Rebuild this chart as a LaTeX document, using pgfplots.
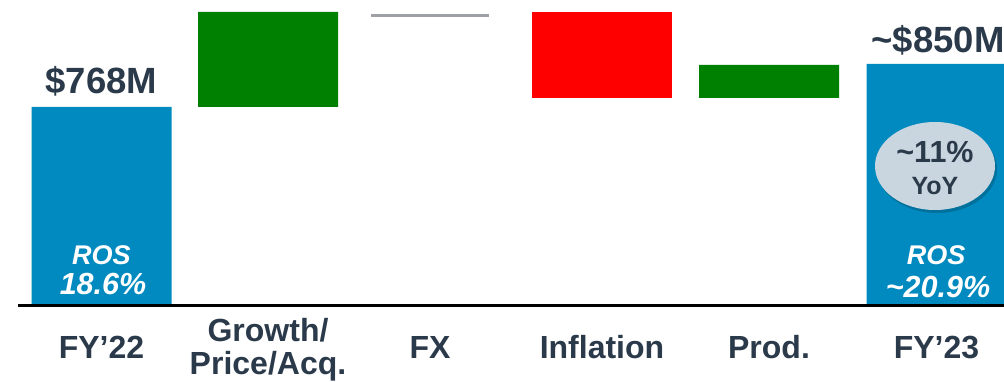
\documentclass[border=0pt]{standalone}
\usepackage{pgfplots}
\pgfplotsset{compat=1.18}
\usepackage{fontspec}
\setmainfont{Liberation Sans}
\definecolor{txtdark}{HTML}{2B3A4A}
\definecolor{barblue}{HTML}{008ABF}
\definecolor{bargreen}{HTML}{008000}
\definecolor{barred}{HTML}{FF0000}
\definecolor{fxgray}{HTML}{9DA1A6}
\definecolor{ellfill}{HTML}{C9D6DF}
\definecolor{baseline}{HTML}{2E3D4D}
\pgfplotsset{frame/.style={
  scale only axis,
  width=1004pt, height=381pt,
  xmin=0, xmax=1004, ymin=-77, ymax=304,
  clip=false}}
\begin{document}
\begin{tikzpicture}
\begin{axis}[
  frame,
  axis line style={draw=none},
  ytick=\empty,
  xtick={101.5,268,430,602,769,936.5},
  xticklabels={FY’22,{\raisebox{-16.5pt}{\begin{tabular}[b]{@{}c@{}}Growth/\\[-0.5pt]Price/Acq.\end{tabular}}},FX,Inflation,Prod.,FY’23},
  tick style={draw=none},
  xticklabel style={anchor=base, yshift=23pt, text=txtdark,
    font=\fontsize{32}{34}\selectfont\bfseries},
  ybar stacked,
  bar width=140,
]
% invisible base
\addplot[draw=none, fill=none] coordinates {(101.5,0) (268,197) (430,286.75) (602,206) (769,206) (936.5,0)};
% totals (blue)
\addplot[draw=none, fill=barblue] coordinates {(101.5,197) (268,0) (430,0) (602,0) (769,0) (936.5,240)};
% increases (green)
\addplot[draw=none, fill=bargreen] coordinates {(101.5,0) (268,95) (430,0) (602,0) (769,33) (936.5,0)};
% decreases (red)
\addplot[draw=none, fill=barred] coordinates {(101.5,0) (268,0) (430,0) (602,86) (769,0) (936.5,0)};
% FX (gray, ~0)
\addplot[draw=none, fill=fxgray, bar width=118] coordinates {(101.5,0) (268,0) (430,3.5) (602,0) (769,0) (936.5,0)};
\end{axis}
\begin{axis}[frame, hide axis]
\draw[baseline, line width=3pt] (axis cs:18,-1) -- (axis cs:1004,-1);

% value labels
\node[anchor=base, text=txtdark, font=\fontsize{36.5}{40}\selectfont\bfseries] at (axis cs:101.5,210) {\$768M};
\node[anchor=base, text=txtdark, font=\fontsize{36.5}{40}\selectfont\bfseries] at (axis cs:938,251) {\char`~\$850M};

% ROS labels
\node[anchor=base, text=white, font=\fontsize{27}{30}\selectfont\bfseries\itshape] at (axis cs:101.5,39) {ROS};
\node[anchor=base, text=white, font=\fontsize{30.5}{33}\selectfont\bfseries\itshape] at (axis cs:103,9) {18.6\%};
\node[anchor=base, text=white, font=\fontsize{27}{30}\selectfont\bfseries\itshape] at (axis cs:936,39) {ROS};
\node[anchor=base, text=white, font=\fontsize{30.5}{33}\selectfont\bfseries\itshape] at (axis cs:938,7) {\char`~20.9\%};

% YoY bubble
\fill[black, opacity=0.18] (axis cs:937,135) ellipse [x radius=60pt, y radius=44pt];
\fill[ellfill] (axis cs:935,138) ellipse [x radius=60pt, y radius=44pt];
\node[anchor=base, text=txtdark, font=\fontsize{30.5}{33}\selectfont\bfseries] at (axis cs:935,141) {\char`~11\%};
\node[anchor=base, text=txtdark, font=\fontsize{25}{28}\selectfont\bfseries] at (axis cs:935,109) {YoY};
\end{axis}
\pgfresetboundingbox
\path (current axis.south west) rectangle (current axis.north east);
\end{tikzpicture}
\end{document}
